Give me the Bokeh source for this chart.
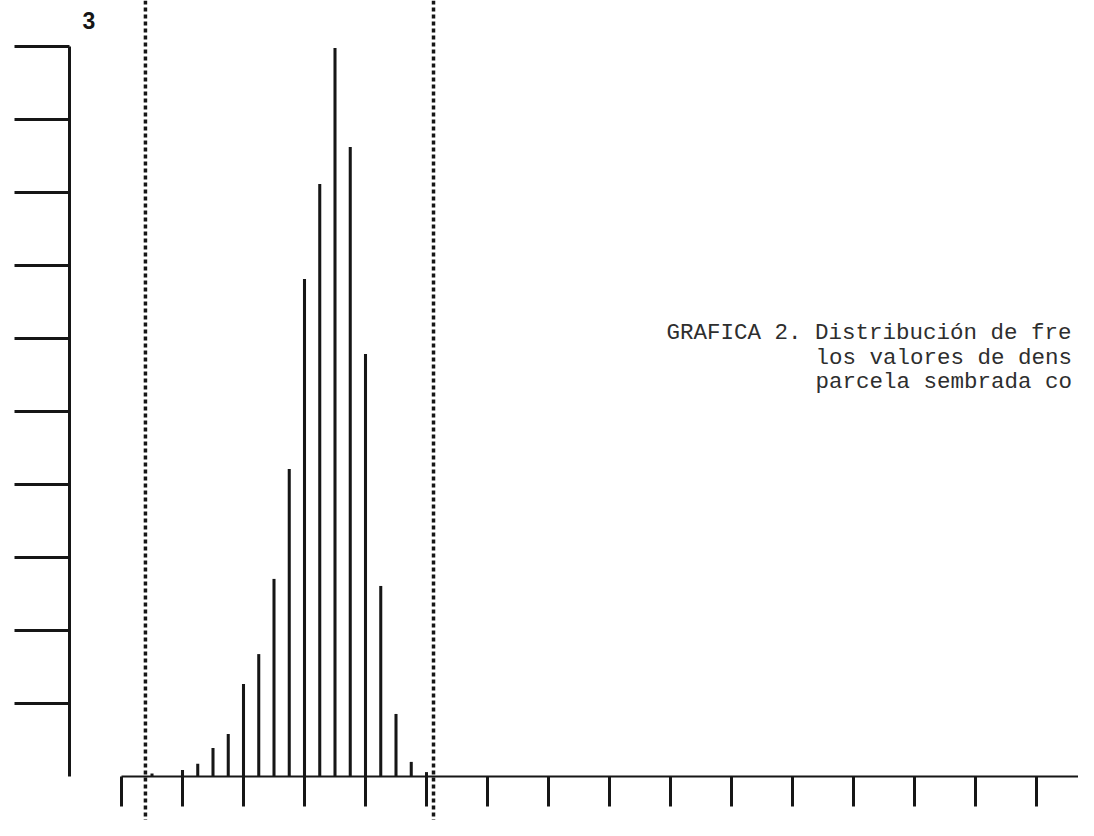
from bokeh.plotting import figure
from bokeh.models import (Range1d, LinearAxis, FixedTicker, Span, Label,
                          ColumnDataSource, CustomJSTickFormatter)
from bokeh.embed import file_html
from bokeh.resources import INLINE

# ---- data ----
bins = [2, 4, 5, 6, 7, 8, 9, 10, 11, 12, 13, 14, 15, 16, 17, 18, 19, 20]
freq = [0.01, 0.025, 0.05, 0.115, 0.173, 0.378, 0.501, 0.81, 1.262, 2.042,
        2.433, 2.992, 2.585, 1.734, 0.781, 0.255, 0.058, 0.016]
x_ticks = [0, 4, 8, 12, 16, 20, 24, 28, 32, 36, 40, 44, 48, 52, 56, 60, 64]
y_ticks = [0.3, 0.6, 0.9, 1.2, 1.5, 1.8, 2.1, 2.4, 2.7, 3.0]
limits = [1.57, 20.46]
top_label = "3"
caption = ["GRAFICA 2. Distribución de fre",
           "los valores de dens",
           "parcela sembrada co"]

# ---- page geometry helpers ----
W, H = 1078, 820
PX_PER_BIN = 15.25
PX_PER_UNIT = 243.33
X_ORIGIN = 121.0
Y_ORIGIN = 775.5


def dx(px):
    return (px - X_ORIGIN) / PX_PER_BIN


def dy(py):
    return (Y_ORIGIN - py) / PX_PER_UNIT


INK = "#161616"

p = figure(width=W, height=H, output_backend="svg", toolbar_location=None,
           x_range=Range1d(dx(0), dx(W)), y_range=Range1d(dy(H), dy(0)),
           x_axis_location=None, y_axis_location=None, min_border=0,
           outline_line_color=None, background_fill_color="white",
           border_fill_color="white")
p.xgrid.visible = False
p.ygrid.visible = False

blank = CustomJSTickFormatter(code="return ''")

yaxis = LinearAxis(fixed_location=dx(69), ticker=FixedTicker(ticks=y_ticks),
                   bounds=(0, 3), formatter=blank,
                   major_tick_out=55, major_tick_in=0,
                   minor_tick_out=0, minor_tick_in=0,
                   axis_line_width=3, axis_line_color=INK,
                   major_tick_line_width=3, major_tick_line_color=INK)
p.add_layout(yaxis, "left")

xaxis = LinearAxis(fixed_location=0, ticker=FixedTicker(ticks=x_ticks),
                   bounds=(0, 64), formatter=blank,
                   major_tick_out=30, major_tick_in=0,
                   minor_tick_out=0, minor_tick_in=0,
                   axis_line_width=2, axis_line_color=INK,
                   major_tick_line_width=3, major_tick_line_color=INK)
p.add_layout(xaxis, "below")

src = ColumnDataSource(dict(x=bins, top=freq))
p.vbar(x="x", top="top", bottom=0, width=0.2, source=src,
       fill_color=INK, line_color=None)

for lim in limits:
    p.add_layout(Span(location=lim, dimension="height", line_color=INK,
                      line_width=3.5, line_dash="4 3"))

p.add_layout(Label(x=dx(82), y=dy(20), text=top_label,
                   text_font="Liberation Sans", text_font_style="bold",
                   text_font_size="23px", text_color=INK,
                   text_baseline="alphabetic", text_align="left"))

cap_x = [666, 815, 815]
cap_y = [332, 357, 381]
for t, cx, cy in zip(caption, cap_x, cap_y):
    p.add_layout(Label(x=dx(cx), y=dy(cy), text=t,
                       text_font="Liberation Mono", text_font_size="22.5px",
                       text_color="#2e2e2e", text_baseline="alphabetic",
                       text_align="left"))

open("out.html", "w").write(file_html(p, INLINE))
